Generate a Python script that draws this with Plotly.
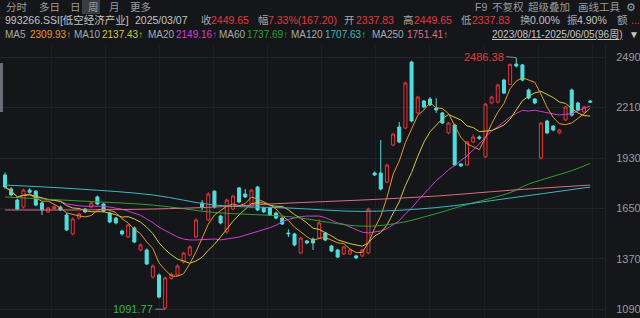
import plotly.graph_objects as go
import pandas as pd

# ---------------- data (weekly bars, 2023/08/11 - 2025/06/05, 96 weeks) ----------------
opens = [1836, 1758, 1697, 1658, 1752, 1746, 1681, 1631, 1650, 1658,
         1614, 1509, 1597, 1647, 1658, 1714, 1675, 1625, 1597, 1525,
         1492, 1542, 1420, 1420, 1270, 1281, 1098, 1262, 1281, 1353,
         1392, 1492, 1681, 1586, 1746, 1608, 1520, 1647, 1764, 1730,
         1658, 1769, 1653, 1653, 1625, 1597, 1514, 1509, 1403, 1470,
         1481, 1486, 1514, 1442, 1420, 1398, 1398, 1387, 1387, 1403,
         1847, 1847, 1797, 2002, 2102, 2096, 2462, 2180, 2246, 2257,
         2207, 2180, 2069, 2113, 1897, 1891, 2019, 2046, 1936, 2235,
         2240, 2362, 2337.83, 2451, 2446, 2307, 2257, 1930, 2135, 2107,
         2069, 2141, 2307, 2235, 2185, 2246]
highs = [1850, 1768, 1705, 1760, 1762, 1752, 1688, 1660, 1668, 1665,
         1625, 1600, 1628, 1653, 1688, 1722, 1680, 1632, 1603, 1532,
         1565, 1550, 1456, 1428, 1340, 1290, 1272, 1295, 1340, 1410,
         1445, 1595, 1697, 1740, 1752, 1615, 1705, 1726, 1770, 1758,
         1758, 1775, 1660, 1660, 1632, 1604, 1535, 1515, 1492, 1476,
         1488, 1590, 1520, 1448, 1426, 1444, 1426, 1394, 1426, 1655,
         1855, 2030, 1900, 2070, 2130, 2355, 2470, 2275, 2252, 2268,
         2262, 2186, 2130, 2120, 1900, 2025, 2062, 2055, 2235, 2275,
         2342, 2370, 2449.65, 2486.38, 2452, 2315, 2262, 2130, 2142, 2112,
         2092, 2220, 2315, 2242, 2220, 2250]
lows = [1760, 1718, 1640, 1650, 1732, 1662, 1614, 1625, 1644, 1636,
        1525, 1500, 1590, 1625, 1652, 1668, 1628, 1568, 1562, 1500,
        1486, 1458, 1412, 1336, 1262, 1152, 1091.77, 1255, 1275, 1345,
        1385, 1485, 1641, 1580, 1650, 1562, 1512, 1640, 1680, 1708,
        1652, 1636, 1625, 1608, 1590, 1558, 1492, 1440, 1397, 1452,
        1420, 1480, 1468, 1408, 1375, 1392, 1392, 1370, 1380, 1397,
        1830, 1750, 1790, 1995, 2012, 2090, 2128, 2172, 2205, 2218,
        2180, 2118, 2062, 1885, 1880, 1885, 2012, 2030, 1930, 2228,
        2232, 2284, 2337.83, 2432, 2355, 2255, 2228, 1922, 2062, 2078,
        2062, 2135, 2160, 2190, 2180, 2236]
closes = [1769, 1725, 1647, 1752, 1740, 1669, 1642, 1653, 1660, 1642,
          1531, 1592, 1620, 1631, 1681, 1675, 1636, 1575, 1570, 1509,
          1559, 1464, 1448, 1342, 1331, 1159, 1265, 1285, 1331, 1403,
          1437, 1586, 1658, 1730, 1658, 1570, 1697, 1719, 1686, 1714,
          1752, 1642, 1631, 1614, 1597, 1564, 1510, 1448, 1486, 1459,
          1459, 1570, 1475, 1414, 1381, 1437, 1420, 1376, 1420, 1647,
          1836, 1758, 1891, 2063, 2019, 2346, 2135, 2268, 2213, 2224,
          2196, 2124, 2124, 1891, 1886, 2019, 2046, 2040, 2229, 2268,
          2335, 2290, 2449.65, 2440, 2362, 2263, 2235, 2124, 2069, 2085,
          2085, 2213, 2168, 2196, 2213, 2240]
bars = list(range(len(closes)))

# long moving averages at sample weeks
ma60_weeks = [0, 12, 24, 34, 46, 58, 64, 69, 75, 82, 85, 92, 95]
ma60_vals = [1714, 1692, 1669, 1628, 1605, 1552, 1570, 1612, 1672, 1738, 1785, 1860, 1900]
ma120_weeks = [0, 12, 24, 34, 46, 58, 70, 82, 95]
ma120_vals = [1780, 1758, 1725, 1669, 1653, 1634, 1655, 1708, 1769]
ma250_weeks = [0, 12, 24, 34, 46, 58, 70, 82, 95]
ma250_vals = [1642, 1642, 1647, 1658, 1680, 1697, 1719, 1751, 1780]

y_ticks = [1090, 1370, 1650, 1930, 2210, 2490]

# ---------------- styling ----------------
BG = "#141619"
GRID = "#202328"
UP = "#e8333d"
DOWN = "#4fdede"
C_MA5, C_MA10, C_MA20 = "#e8962e", "#d8c83a", "#d23cd2"
C_MA60, C_MA120, C_MA250 = "#2fa02f", "#3fb8c0", "#d8707f"
FONT = "Liberation Sans, Arial, Noto Sans CJK SC"
HS = 10.5  # header font size
HS3 = 10   # MA row font size

s = pd.Series(closes)
ma5 = s.rolling(5, min_periods=1).mean()
ma10 = s.rolling(10, min_periods=1).mean()
ma20 = s.rolling(20, min_periods=1).mean()

fig = go.Figure()
fig.add_trace(go.Candlestick(
    x=bars, open=opens, high=highs, low=lows, close=closes,
    increasing=dict(line=dict(color=UP, width=1), fillcolor=BG),
    decreasing=dict(line=dict(color=DOWN, width=1), fillcolor=DOWN),
    whiskerwidth=0, hoverinfo="skip"))

for vals, col in [(ma20, C_MA20), (ma10, C_MA10), (ma5, C_MA5)]:
    fig.add_trace(go.Scatter(x=bars, y=vals, mode="lines",
                             line=dict(color=col, width=1), hoverinfo="skip"))
for wk, vals, col in [(ma60_weeks, ma60_vals, C_MA60),
                      (ma120_weeks, ma120_vals, C_MA120),
                      (ma250_weeks, ma250_vals, C_MA250)]:
    fig.add_trace(go.Scatter(x=wk, y=vals, mode="lines",
                             line=dict(color=col, width=1, shape="spline"),
                             hoverinfo="skip"))

# plot area geometry in pixels (for header placement)
L, R, T, B = 0, 605, 45, 318
def xp(px):
    return (px - L) / (R - L)
def yp(py):
    return (B - py) / (B - T)

ann = []
def txt(s_, px, py, color="#a4a4a4", size=HS, xanchor="left"):
    ann.append(dict(text=s_, x=xp(px), y=yp(py), xref="paper", yref="paper",
                    xanchor=xanchor, yanchor="middle", showarrow=False,
                    font=dict(color=color, size=size, family=FONT)))

RED = "#e23a40"
GRAY = "#a8a8a8"
LIGHT = "#c4c4c4"
# row 1
for t_, px in [("分时", 4), ("多日", 37), ("日", 68), ("周", 86), ("月", 107), ("更多", 128)]:
    txt(t_, px, 7, "#9c9c9c")
for t_, px in [("F9", 473), ("不复权", 490), ("超级叠加", 526), ("画线", 576), ("工具", 597), ("⚙", 624)]:
    txt(t_, px, 7, "#9c9c9c")
# row 2
row2 = [("993266.SSI[低空经济产业]", 3, LIGHT), ("2025/03/07", 133, LIGHT),
        ("收", 199, GRAY), ("2449.65", 209, RED), ("幅", 256, GRAY), ("7.33%(167.20)", 266, RED),
        ("开", 342, GRAY), ("2337.83", 354, RED), ("高", 401, GRAY), ("2449.65", 412, RED),
        ("低", 459, GRAY), ("2337.83", 470, RED), ("换", 518, GRAY), ("0.00%", 528, LIGHT),
        ("振", 565, GRAY), ("4.90%", 575, LIGHT), ("额", 615, GRAY), ("...", 629, RED)]
for t_, px, c in row2:
    txt(t_, px, 20, c)
# row 3
row3 = [("MA5", 3, GRAY), ("2309.93↑", 28, C_MA5), ("MA10", 72, GRAY), ("2137.43↑", 100, C_MA10),
        ("MA20", 146, GRAY), ("2149.16↑", 174, C_MA20), ("MA60", 217, GRAY), ("1737.69↑", 245, C_MA60),
        ("MA120", 289, GRAY), ("1707.63↑", 323, C_MA120), ("MA250", 370, GRAY), ("1751.41↑", 405, C_MA250),
        ("<u>2023/08/11-2025/06/05(96周)</u>", 490, LIGHT), ("▼", 627, LIGHT)]
for t_, px, c in row3:
    txt(t_, px, 35, c, size=HS3)

# extreme-value markers
hi_i = highs.index(max(highs))
lo_i = lows.index(min(lows))
ann.append(dict(x=hi_i, y=highs[hi_i], xref="x", yref="y", text=f"{highs[hi_i]:.2f}",
                showarrow=True, arrowhead=0, arrowwidth=1, arrowcolor="#8a8a8a",
                ax=-10, ay=-1, xanchor="right", yanchor="middle",
                font=dict(color=RED, size=11, family=FONT)))
ann.append(dict(x=lo_i, y=lows[lo_i], xref="x", yref="y", text=f"{lows[lo_i]:.2f}",
                showarrow=True, arrowhead=0, arrowwidth=1, arrowcolor="#8a8a8a",
                ax=-10, ay=0, xanchor="right", yanchor="middle",
                font=dict(color="#35b552", size=11, family=FONT)))

shapes = [
    dict(type="rect", xref="paper", yref="paper", x0=xp(82), x1=xp(100), y0=yp(14), y1=yp(0),
         fillcolor="#3a3d45", line=dict(width=0), layer="below"),
    dict(type="rect", xref="paper", yref="paper", x0=xp(0), x1=xp(3), y0=yp(112), y1=yp(63),
         fillcolor="#6a6d75", line=dict(width=0)),
]

px_per_bar = 6.16
fig.update_layout(
    width=640, height=318, margin=dict(l=L, r=640 - R, t=T, b=0),
    paper_bgcolor=BG, plot_bgcolor=BG, showlegend=False,
    font=dict(family=FONT, size=11, color="#9c9c9c"),
    annotations=ann, shapes=shapes,
    xaxis=dict(range=[-5 / px_per_bar, (R - 5) / px_per_bar], showticklabels=False,
               showgrid=True, gridcolor="#1c1f24", tick0=7.6, dtick=8.77, ticks="",
               zeroline=False, rangeslider=dict(visible=False), fixedrange=True,
               showline=False),
    yaxis=dict(side="right", range=[1042.8, 2556.6], tickvals=y_ticks,
               ticktext=[str(v) for v in y_ticks], showgrid=True, gridcolor=GRID,
               zeroline=False, ticks="", ticklabelstandoff=8,
               tickfont=dict(color="#9c9c9c", size=11, family=FONT),
               showline=True, linecolor="#1e2126", fixedrange=True),
)

fig.write_html("out.html")
